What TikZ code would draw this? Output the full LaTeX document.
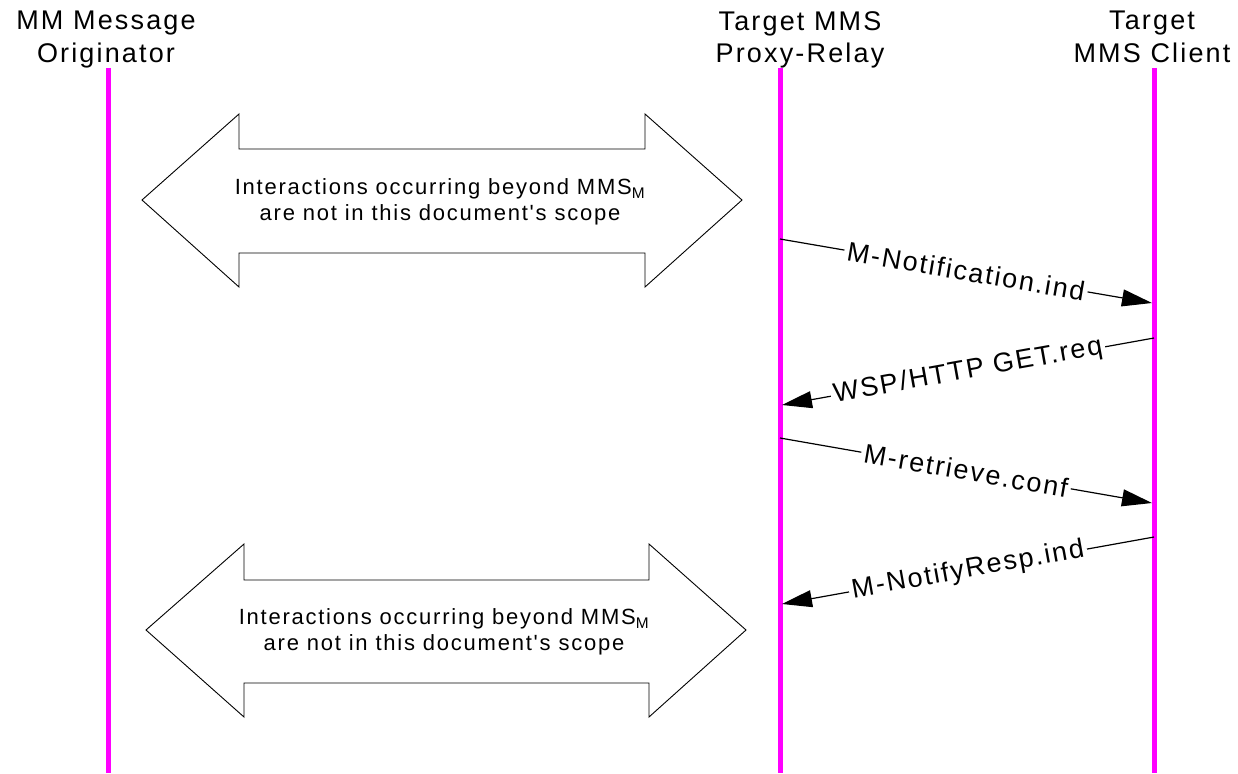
\documentclass[tikz,border=0pt]{standalone}
\usepackage{fontspec}
\setmainfont{Liberation Sans}
\newfontfamily\hdfont[LetterSpace=8]{Liberation Sans}
\newfontfamily\bxfont[LetterSpace=8]{Liberation Sans}
\newfontfamily\msgfont[LetterSpace=7]{Liberation Sans}
\usetikzlibrary{arrows.meta}
\definecolor{life}{RGB}{255,0,255}
\tikzset{
  lifeline/.style={draw=life, line width=5pt},
  hdr/.style={align=center, inner sep=0pt, anchor=north, font=\hdfont\fontsize{27}{32.5}\selectfont},
  bigarrow/.style={draw=black, line width=0.9pt, fill=white},
  bxtext/.style={align=center, inner sep=0pt, font=\bxfont\fontsize{22}{26}\selectfont},
  msg/.style={draw=black, line width=1.2pt, -{Triangle[length=30pt,width=17pt]}},
  lbl/.style={sloped, fill=white, inner sep=3pt, font=\msgfont\fontsize{27}{30}\selectfont},
}
\begin{document}
\begin{tikzpicture}[x=1pt,y=-1pt]
\useasboundingbox (0,0) rectangle (1238,773);
\fill[white] (0,0) rectangle (1238,773);
% headers
\node[hdr] (oh) at (106,11) {MM Message\\Originator};
\node[hdr] (ph) at (800,11) {Target MMS\\Proxy-Relay};
\node[hdr] (ch) at (1152,11) {Target\\MMS Client};
% lifelines
\coordinate (ot) at (108,68);  \coordinate (ob) at (108,773);
\coordinate (pt) at (780,68);  \coordinate (pb) at (780,773);
\coordinate (ct) at (1154,68); \coordinate (cb) at (1154,773);
\draw[lifeline] (ot) -- (ob);
\draw[lifeline] (pt) -- (pb);
\draw[lifeline] (ct) -- (cb);
% double arrows
\draw[bigarrow] (142,200) -- (239,114) -- (239,149) -- (645,149) -- (645,114) -- (742,200)
  -- (645,287) -- (645,253) -- (239,253) -- (239,287) -- cycle;
\node[bxtext] (b1) at (440,202) {Interactions occurring beyond MMS\textsubscript{M}\\are not in this document's scope};
\draw[bigarrow] (146,630) -- (244,544) -- (244,580) -- (649,580) -- (649,544) -- (746,630)
  -- (649,717) -- (649,683) -- (244,683) -- (244,717) -- cycle;
\node[bxtext] (b2) at (444,632) {Interactions occurring beyond MMS\textsubscript{M}\\are not in this document's scope};
% messages
\coordinate (m1s) at (780,239);  \coordinate (m1e) at (1152,303);
\coordinate (m2s) at (1154,338); \coordinate (m2e) at (782,405);
\coordinate (m3s) at (780,438);  \coordinate (m3e) at (1152,503);
\coordinate (m4s) at (1154,537); \coordinate (m4e) at (782,604);
\draw[msg] (m1s) -- node[lbl] (l1) {M-Notification.ind} (m1e);
\draw[msg] (m2s) -- node[lbl] (l2) {WSP/HTTP GET.req} (m2e);
\draw[msg] (m3s) -- node[lbl] (l3) {M-retrieve.conf} (m3e);
\draw[msg] (m4s) -- node[lbl] (l4) {M-NotifyResp.ind} (m4e);
\end{tikzpicture}
\end{document}
